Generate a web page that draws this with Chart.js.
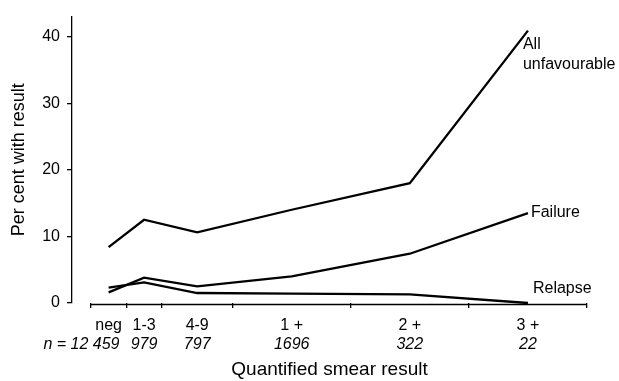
<!DOCTYPE html>
<html>
<head>
<meta charset="utf-8">
<script src="https://cdn.jsdelivr.net/npm/chart.js@4/dist/chart.umd.min.js"></script>
<style>
  body { margin: 0; background: #fff; }
  canvas { display: block; }
</style>
</head>
<body>
<canvas id="grafico" width="619" height="381"></canvas>
<script>
// categorias do eixo x e o n de cada uma
const categories = ['neg', '1-3', '4-9', '1 +', '2 +', '3 +'];
const sampleSizes = ['12 459', '979', '797', '1696', '322', '22'];
// limites de cada faixa no eixo (as faixas nao tem a mesma largura)
const binEdges = [0, 0.3, 0.6, 1.2, 2.2, 3.2, 4.2];

// percentuais
const allUnfavourable = [8.4, 12.5, 10.6, 14.0, 18.0, 40.9];
const failure = [1.6, 3.8, 2.5, 4.0, 7.4, 13.5];
const relapse = [2.3, 3.1, 1.5, 1.4, 1.3, 0];

const yTicks = [0, 10, 20, 30, 40];
const seriesNames = [['All', 'unfavourable'], ['Failure'], ['Relapse']];

const fonte = "'Liberation Sans', Arial, Helvetica, sans-serif";

// centro de cada faixa
const centres = categories.map((c, i) => (binEdges[i] + binEdges[i + 1]) / 2);

const toPoints = (values) => values.map((v, i) => ({ x: centres[i], y: v }));

// escreve o nome de cada serie na ponta da linha
const lineLabels = {
  id: 'lineLabels',
  afterDatasetsDraw(chart) {
    const ctx = chart.ctx;
    ctx.save();
    ctx.fillStyle = '#000';
    ctx.font = '16px ' + fonte;
    ctx.textAlign = 'left';
    // deslocamento do texto em relacao ao ultimo ponto
    const offsets = [
      { dx: -5, dy: 18, base: 'alphabetic' },
      { dx: 3, dy: 0, base: 'middle' },
      { dx: 5, dy: -14, base: 'middle' }
    ];
    chart.data.datasets.forEach((ds, i) => {
      const meta = chart.getDatasetMeta(i);
      const last = meta.data[meta.data.length - 1];
      const o = offsets[i];
      ctx.textBaseline = o.base;
      seriesNames[i].forEach((linha, j) => {
        ctx.fillText(linha, last.x + o.dx, last.y + o.dy + j * 20);
      });
    });
    ctx.restore();
  }
};

// linha do eixo x so entre o inicio e o fim das faixas
const xAxisLine = {
  id: 'xAxisLine',
  afterDraw(chart) {
    const x = chart.scales.x;
    const ctx = chart.ctx;
    ctx.save();
    ctx.strokeStyle = '#000';
    ctx.lineWidth = 1.3;
    ctx.beginPath();
    ctx.moveTo(x.getPixelForValue(binEdges[0]), x.top + 1.5);
    ctx.lineTo(x.getPixelForValue(binEdges[binEdges.length - 1]), x.top + 1.5);
    ctx.stroke();
    ctx.restore();
  }
};

const linha = (label, values) => ({
  label: label,
  data: toPoints(values),
  borderColor: '#000',
  borderWidth: 2.3,
  pointRadius: 0,
  tension: 0,
  clip: 6
});

new Chart(document.querySelector('#grafico').getContext('2d'), {
  type: 'line',
  data: {
    datasets: [
      linha('All unfavourable', allUnfavourable),
      linha('Failure', failure),
      linha('Relapse', relapse)
    ]
  },
  options: {
    responsive: false,
    animation: false,
    layout: { padding: { top: 14, right: 32, bottom: 0, left: 0 } },
    plugins: { legend: { display: false }, tooltip: { enabled: false } },
    scales: {
      // marcas de divisao entre as faixas
      x: {
        type: 'linear',
        position: 'bottom',
        weight: 0,
        min: -0.16,
        max: 4.2,
        afterBuildTicks: (s) => { s.ticks = binEdges.map((v) => ({ value: v })); },
        afterFit: (s) => { s.height = 8; },
        border: { display: false },
        grid: { drawOnChartArea: false, tickLength: 5, color: '#000', lineWidth: 1.3 },
        ticks: { display: false }
      },
      // nomes das categorias
      xCat: {
        type: 'linear',
        position: 'bottom',
        weight: 1,
        min: -0.16,
        max: 4.2,
        afterBuildTicks: (s) => { s.ticks = centres.map((v) => ({ value: v })); },
        afterFit: (s) => { s.height = 24; },
        border: { display: false },
        grid: { display: false, drawTicks: false },
        ticks: {
          autoSkip: false,
          maxRotation: 0,
          padding: 5,
          color: '#000',
          font: { family: fonte, size: 16 },
          callback: (v, i) => categories[i]
        }
      },
      // n de cada categoria, em italico
      xN: {
        type: 'linear',
        position: 'bottom',
        weight: 2,
        min: -0.16,
        max: 4.2,
        afterBuildTicks: (s) => {
          s.ticks = centres.map((v, i) => ({ value: i === 0 ? v - 0.23 : v }));
        },
        afterFit: (s) => { s.height = 46; },
        border: { display: false },
        grid: { display: false, drawTicks: false },
        ticks: {
          autoSkip: false,
          maxRotation: 0,
          padding: 0,
          color: '#000',
          font: { family: fonte, size: 16, style: 'italic' },
          callback: (v, i) => (i === 0 ? 'n = ' : '') + sampleSizes[i]
        },
        title: {
          display: true,
          text: 'Quantified smear result',
          color: '#000',
          font: { family: fonte, size: 19 },
          padding: { top: 0, bottom: 0 }
        }
      },
      y: {
        min: 0,
        max: 43,
        afterBuildTicks: (s) => { s.ticks = yTicks.map((v) => ({ value: v })); },
        afterFit: (s) => { s.width = 72; },
        border: { display: true, color: '#000', width: 1.3 },
        grid: { drawOnChartArea: false, tickLength: 5, color: '#000', lineWidth: 1.3 },
        ticks: {
          padding: 7,
          color: '#000',
          font: { family: fonte, size: 16 }
        },
        title: {
          display: true,
          text: 'Per cent with result',
          color: '#000',
          font: { family: fonte, size: 18 },
          padding: { top: 8, bottom: 0 }
        }
      }
    }
  },
  plugins: [lineLabels, xAxisLine]
});
</script>
</body>
</html>
